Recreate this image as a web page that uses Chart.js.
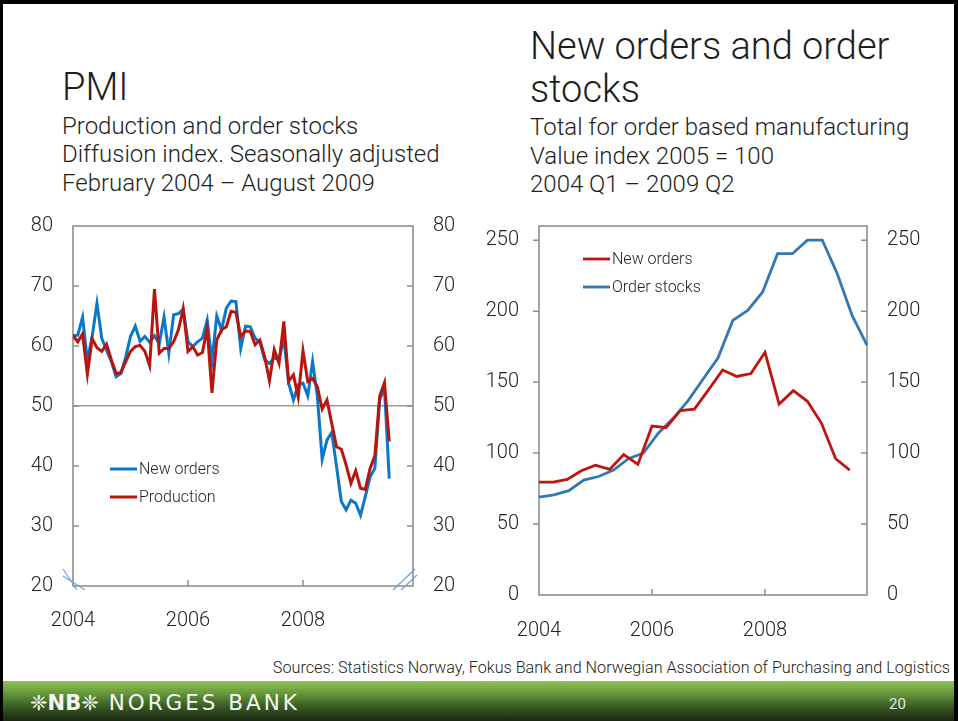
<!DOCTYPE html>
<html>
<head>
<meta charset="utf-8">
<script src="https://cdn.jsdelivr.net/npm/chart.js@4.4.1/dist/chart.umd.min.js"></script>
<style>
html,body{margin:0;padding:0;}
body{width:958px;height:721px;overflow:hidden;background:#fff;position:relative;font-family:Roboto,"Liberation Sans",sans-serif;color:#1e1e1e;}
.t{position:absolute;white-space:nowrap;line-height:1;font-weight:300;}
.h1{font-size:38px;}
.h2{font-size:24px;}
#c1{position:absolute;left:0;top:200px;}
#c2{position:absolute;left:470px;top:200px;}
#src{position:absolute;right:8px;top:660px;font-size:16.2px;font-weight:300;line-height:1;white-space:nowrap;color:#222;}
#band{position:absolute;left:0;top:681px;width:958px;height:40px;background:linear-gradient(to bottom,#8fc254 0%,#6a9c3c 28%,#3a5e24 62%,#1b2614 100%);}
#logo{position:absolute;left:30px;top:692px;font-family:"DejaVu Sans",sans-serif;font-size:21.5px;line-height:1;color:#f6f6f6;letter-spacing:3px;white-space:nowrap;}
#logo .nb{font-size:21px;font-weight:bold;letter-spacing:0;}
#logo .orn{font-size:21px;letter-spacing:0;}
#pg{position:absolute;left:889px;top:697px;font-size:15px;line-height:1;color:#e6e6e6;}
#frame{position:absolute;left:0;top:0;width:958px;height:721px;box-sizing:border-box;border-top:4px solid #000;border-left:3px solid #000;border-right:4px solid #000;pointer-events:none;}
</style>
</head>
<body>
<div class="t h1" style="left:62px;top:68px;">PMI</div>
<div class="t h2" style="left:62px;top:114px;">Production and order stocks</div>
<div class="t h2" style="left:62px;top:142px;">Diffusion index. Seasonally adjusted</div>
<div class="t h2" style="left:62px;top:171px;">February 2004 – August 2009</div>

<div class="t h1" style="left:530px;top:27px;">New orders and order</div>
<div class="t h1" style="left:530px;top:70px;">stocks</div>
<div class="t h2" style="left:530px;top:115px;">Total for order based manufacturing</div>
<div class="t h2" style="left:530px;top:144px;">Value index 2005 = 100</div>
<div class="t h2" style="left:530px;top:172px;">2004 Q1 – 2009 Q2</div>

<canvas id="c1" width="470" height="440"></canvas>
<canvas id="c2" width="488" height="450"></canvas>

<div id="src">Sources: Statistics Norway, Fokus Bank and Norwegian Association of Purchasing and Logistics</div>
<div id="band"></div>
<div id="logo"><span class="orn">❈</span><span class="nb">NB</span><span class="orn">❈</span> NORGES BANK</div>
<div id="pg">20</div>
<div id="frame"></div>

<script>
// ---------- PMI (monthly, Feb 2004 – Aug 2009) ----------
const pmiFirstYear = 2004;
const pmiNewOrders = [
 61.7,61.8,64.8,57.5,61.6,67.1,61.3,59.3,57.4,54.9,55.4,58.2,
 61.6,63.3,60.8,61.6,60.6,61.7,60.4,64.8,58.8,65.2,65.4,66.1,
 60.7,59.9,60.7,61.3,64.3,57.5,65.0,62.7,66.3,67.5,67.4,59.6,
 63.3,63.2,61.3,60.7,57.7,57.1,58.0,57.8,61.3,53.8,51.0,53.5,
 53.8,51.7,57.4,51.6,41.1,44.3,45.6,39.9,34.1,32.7,34.3,33.8,
 31.8,34.9,38.2,39.6,51.0,53.0,37.9];
const pmiProduction = [
 61.7,60.7,62.0,55.3,61.2,59.7,59.1,60.3,57.7,55.4,55.6,57.4,
 59.1,59.9,60.1,59.1,56.7,69.5,58.8,59.6,59.6,60.7,62.7,66.2,
 59.1,59.9,58.5,58.9,62.9,52.2,61.0,62.7,63.2,65.8,65.6,61.6,
 62.5,62.4,60.2,61.0,58.2,54.2,59.4,57.1,64.1,54.1,55.2,51.5,
 59.2,54.1,54.6,53.2,49.5,51.0,47.1,43.2,42.8,40.2,37.1,39.2,
 36.3,36.1,39.6,41.7,51.6,53.9,44.1];
const pmiYearTicks = [2004, 2006, 2008];
const pmiValueTicks = [20, 30, 40, 50, 60, 70, 80];

// ---------- New orders & order stocks (quarterly) ----------
const qLabels = ['2004 Q1','2004 Q2','2004 Q3','2004 Q4','2005 Q1','2005 Q2','2005 Q3','2005 Q4',
 '2006 Q1','2006 Q2','2006 Q3','2006 Q4','2007 Q1','2007 Q2','2007 Q3','2007 Q4',
 '2008 Q1','2008 Q2','2008 Q3','2008 Q4','2009 Q1','2009 Q2','2009 Q3'];
const qNewOrders = [79.5,79.5,81.5,87.5,91.5,88.5,99,92,119,118,130,131,144.5,158.5,154,156,171,134.5,144,136.5,121,96,88];
const qOrderStocks = [69,70.5,73.5,81,83.5,88,96,100,114,124.5,137,152,167,193.5,200.5,213.5,240.5,240.5,250,250,226.5,197,176];
const qYearTicks = [2004, 2006, 2008];
const qValueTicks = [0, 50, 100, 150, 200, 250];

Chart.defaults.font.family = 'Roboto, "Liberation Sans", sans-serif';
Chart.defaults.font.size = 20;
Chart.defaults.font.weight = '300';
Chart.defaults.color = '#222';

const decor = {
  id: 'decor',
  beforeDatasetsDraw(chart, args, o) {
    const {ctx, chartArea: a, scales} = chart;
    ctx.save();
    ctx.strokeStyle = o.frameColor; ctx.lineWidth = 1.6;
    ctx.strokeRect(a.left, a.top, a.right - a.left, a.bottom - a.top);
    const L = o.tickLen;
    ctx.lineWidth = 1.5;
    scales.y.ticks.forEach(t => {
      const py = scales.y.getPixelForValue(t.value);
      if (py <= a.top + 1 || py >= a.bottom - 1) return;
      ctx.beginPath();
      if (o.leftOut) { ctx.moveTo(a.left - L, py); ctx.lineTo(a.left, py); }
      else { ctx.moveTo(a.left, py); ctx.lineTo(a.left + L, py); }
      ctx.moveTo(a.right - L, py); ctx.lineTo(a.right, py);
      ctx.stroke();
    });
    scales.x.ticks.forEach(t => {
      const px = scales.x.getPixelForValue(t.value);
      if (px <= a.left + 1 || px >= a.right - 1) return;
      ctx.beginPath(); ctx.moveTo(px, a.bottom); ctx.lineTo(px, a.bottom - L); ctx.stroke();
    });
    ctx.restore();
  },
  afterDatasetsDraw(chart, args, o) {
    const {ctx, chartArea: a} = chart;
    ctx.save();
    o.legend.forEach((idx, k) => {
      const ds = chart.data.datasets[idx];
      const y = a.top + o.legendY + k * o.legendGap;
      const x = a.left + o.legendX;
      ctx.strokeStyle = ds.borderColor; ctx.lineWidth = ds.borderWidth;
      ctx.beginPath(); ctx.moveTo(x, y); ctx.lineTo(x + o.legendLen, y); ctx.stroke();
      ctx.fillStyle = '#222'; ctx.font = '300 16px Roboto, "Liberation Sans", sans-serif';
      ctx.textBaseline = 'middle'; ctx.textAlign = 'left';
      ctx.fillText(ds.label, x + o.legendLen + 2, y + 1);
    });
    if (o.breaks) {
      ctx.strokeStyle = '#6f9fdc'; ctx.lineWidth = 1.2;
      const b = a.bottom, l = a.left, r = a.right;
      const seg = [[l-10,b-17,l+4,b+4],[l-10,b-10,l+12,b+4],[r-20,b+4,r+2,b-17],[r-12,b+4,r+4,b-11]];
      seg.forEach(s => { ctx.beginPath(); ctx.moveTo(s[0],s[1]); ctx.lineTo(s[2],s[3]); ctx.stroke(); });
    }
    ctx.restore();
  }
};

function setTicks(arr){ return function(scale){ scale.ticks = arr.map(v => ({value: v})); }; }
function fixW(w){ return function(s){ s.width = w; s.paddingTop = 0; s.paddingBottom = 0; }; }

const ch1 = new Chart(document.getElementById('c1'), {
  type: 'line',
  data: {
    datasets: [
      { label: 'Production', data: pmiProduction.map((v,i)=>({x: pmiFirstYear + i/12, y: v})),
        borderColor: '#b8150f', borderWidth: 3, pointRadius: 0, tension: 0, order: 0 },
      { label: 'New orders', data: pmiNewOrders.map((v,i)=>({x: pmiFirstYear + i/12, y: v})),
        borderColor: '#0a77c9', borderWidth: 3, pointRadius: 0, tension: 0, order: 1 }
    ]
  },
  options: {
    responsive: false, animation: false, devicePixelRatio: 1,
    layout: { padding: { top: 26, left: 0, right: 0, bottom: 0 } },
    plugins: { legend: { display: false }, tooltip: { enabled: false },
      decor: { frameColor: '#8e8e8e', tickLen: 6, leftOut: false, legend: [1, 0], legendX: 37, legendY: 243, legendGap: 28, legendLen: 27, breaks: true } },
    scales: {
      x: { type: 'linear', min: 2004, max: 2009.913, afterBuildTicks: setTicks(pmiYearTicks),
        afterFit(s){ s.height = 54; },
        grid: { display: false }, border: { display: false },
        ticks: { padding: 15, maxRotation: 0, autoSkip: false, callback: v => String(v) } },
      y: { min: 20, max: 80, position: 'left', afterBuildTicks: setTicks(pmiValueTicks),
        afterFit: fixW(73),
        grid: { drawTicks: false, lineWidth: 1.5, color: c => c.tick && c.tick.value === 50 ? '#9a9a9a' : 'rgba(0,0,0,0)' },
        border: { display: false },
        ticks: { padding: 20 } },
      y1: { min: 20, max: 80, position: 'right', afterBuildTicks: setTicks(pmiValueTicks),
        afterFit: fixW(57),
        grid: { display: false, drawTicks: false }, border: { display: false },
        ticks: { padding: 20 } }
    }
  },
  plugins: [decor]
});

const ch2 = new Chart(document.getElementById('c2'), {
  type: 'line',
  data: {
    labels: qLabels,
    datasets: [
      { label: 'New orders', data: qNewOrders.map((v,i)=>({x: 2004 + i/4, y: v})), xAxisID: 'x',
        borderColor: '#c0150f', borderWidth: 2.8, pointRadius: 0, tension: 0 },
      { label: 'Order stocks', data: qOrderStocks, xAxisID: 'x2',
        borderColor: '#3378b1', borderWidth: 2.8, pointRadius: 0, tension: 0 }
    ]
  },
  options: {
    responsive: false, animation: false, devicePixelRatio: 1,
    layout: { padding: { top: 26, left: 0, right: 0, bottom: 0 } },
    plugins: { legend: { display: false }, tooltip: { enabled: false },
      decor: { frameColor: '#8e8e8e', tickLen: 6, leftOut: true, legend: [0, 1], legendX: 44, legendY: 33, legendGap: 28, legendLen: 27, breaks: false } },
    scales: {
      x: { type: 'linear', min: 2004, max: 2009.805, afterBuildTicks: setTicks(qYearTicks),
        afterFit(s){ s.height = 55; },
        grid: { display: false }, border: { display: false },
        ticks: { padding: 16, maxRotation: 0, autoSkip: false, callback: v => String(v) } },
      x2: { type: 'category', display: false, offset: false },
      y: { min: 0, max: 260, position: 'left', afterBuildTicks: setTicks(qValueTicks),
        afterFit: fixW(69),
        grid: { display: false, drawTicks: false }, border: { display: false },
        ticks: { padding: 20 } },
      y1: { min: 0, max: 260, position: 'right', afterBuildTicks: setTicks(qValueTicks),
        afterFit: fixW(91),
        grid: { display: false, drawTicks: false }, border: { display: false },
        ticks: { padding: 20 } }
    }
  },
  plugins: [decor]
});

function fixTop(ch, want) {
  const d = ch.chartArea.top - want;
  if (Math.abs(d) > 0.2) { ch.options.layout.padding.top = Math.max(0, ch.options.layout.padding.top - d); ch.update('none'); }
}
fixTop(ch1, 26);
fixTop(ch2, 26);
</script>
</body>
</html>
